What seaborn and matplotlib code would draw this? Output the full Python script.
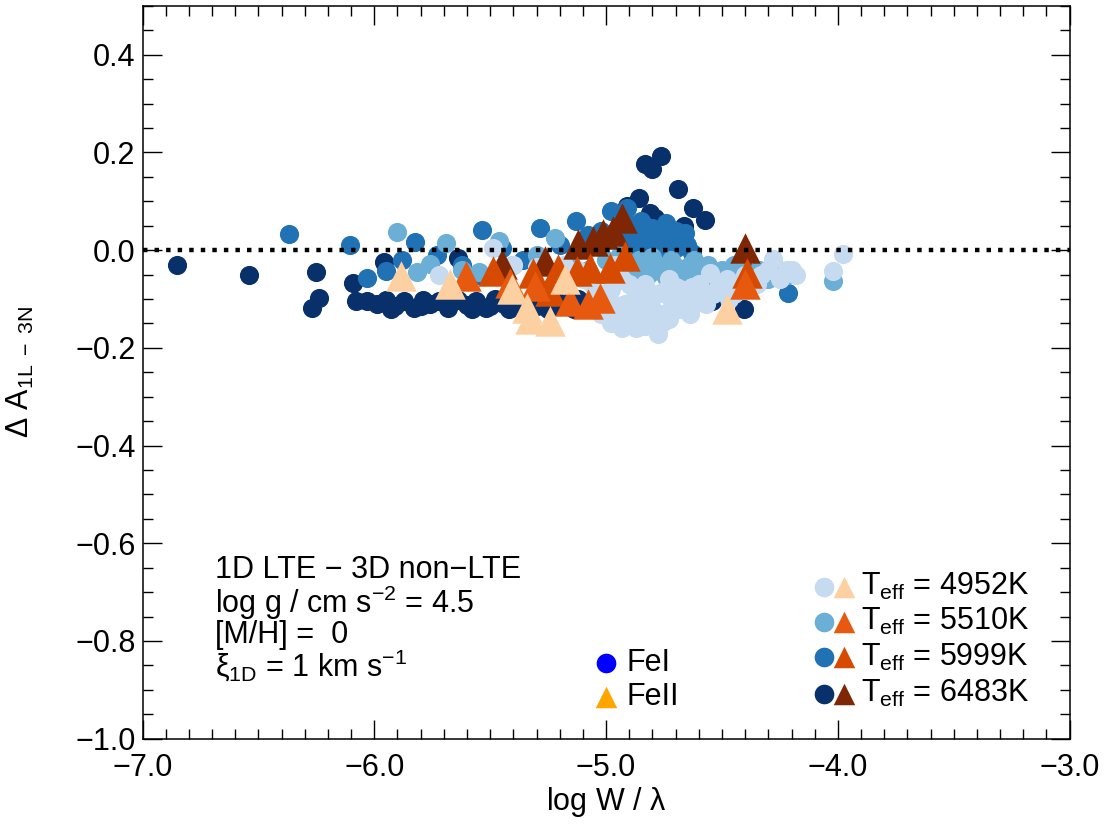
import seaborn as sns
import matplotlib.pyplot as plt
from matplotlib.ticker import MultipleLocator, FuncFormatter

# --- data (log W/lambda, Delta A) ---
# FeI lines, one list per Teff
fe1_6483_x = [-6.85, -6.54, -6.25, -6.24, -6.27, -6.09, -5.96, -5.64,
              -6.08, -6.03, -5.99, -5.95, -5.91, -5.87, -5.83, -5.79, -5.76, -5.72,
              -5.68, -5.64, -5.60, -5.56, -5.52, -5.48, -5.44, -5.40, -5.36, -5.32,
              -5.27, -5.22, -5.17, -5.12, -5.06,
              -5.03, -5.09, -5.14, -5.20, -5.25, -5.30, -5.34, -5.42, -5.50, -5.58,
              -5.70, -5.80, -5.93,
              -4.832, -4.762, -4.80, -4.69, -4.624, -4.572, -4.663, -4.857, -4.81,
              -4.79, -4.91, -4.93, -4.542, -4.404]
fe1_6483_y = [-0.031, -0.051, -0.045, -0.098, -0.119, -0.068, -0.025, -0.016,
              -0.105, -0.105, -0.110, -0.102, -0.115, -0.105, -0.118, -0.102, -0.110, -0.104,
              -0.118, -0.103, -0.112, -0.105, -0.118, -0.100, -0.110, -0.104, -0.115, -0.100,
              -0.110, -0.100, -0.108, -0.100, -0.105,
              -0.110, -0.115, -0.120, -0.115, -0.120, -0.115, -0.120, -0.120, -0.115, -0.120,
              -0.105, -0.115, -0.120,
              0.176, 0.193, 0.166, 0.125, 0.086, 0.062, 0.049, 0.107, 0.076,
              0.066, 0.090, 0.040, -0.105, -0.121]

fe1_5999_x = [-6.37, -6.105, -6.03, -5.95, -5.825, -5.73, -5.62, -5.536, -5.45,
              -5.36, -5.285, -5.20, -5.13, -5.08, -5.02, -4.98, -4.94, -4.91, -4.88,
              -4.85, -4.82, -4.80, -4.77, -4.74, -4.72, -4.70, -4.67, -4.65, -4.86,
              -4.75, -4.60, -4.214, -4.40, -5.55, -5.88,
              -4.96, -4.92, -4.89, -4.86, -4.83, -4.79, -4.76, -4.73, -4.69, -4.66,
              -4.90, -4.84, -4.70, -4.63]
fe1_5999_y = [0.033, 0.010, -0.057, -0.043, 0.016, -0.010, -0.030, 0.041, 0.005,
              -0.020, 0.045, 0.010, 0.060, 0.030, 0.040, 0.080, 0.050, 0.086, 0.030,
              0.060, 0.020, 0.045, 0.030, 0.055, 0.020, 0.040, 0.025, 0.010, 0.005,
              0.005, -0.040, -0.088, -0.040, -0.050, -0.020,
              0.030, 0.060, 0.050, 0.035, 0.050, 0.020, 0.040, 0.035, 0.015, 0.035,
              0.015, 0.015, 0.005, -0.005]

fe1_5510_x = [-5.90, -5.816, -5.76, -5.69, -5.62, -5.55, -5.46, -5.40, -5.30,
              -5.22, -5.15, -5.08, -5.00, -4.94, -4.90, -4.86, -4.82, -4.78, -4.74,
              -4.70, -4.66, -4.62, -4.58, -4.55, -4.50, -4.45, -4.40, -4.34, -4.28,
              -4.22, -4.02, -4.85, -4.95,
              -4.97, -4.92, -4.88, -4.84, -4.80, -4.76, -4.72, -4.68, -4.64, -4.60,
              -4.56, -4.52, -4.47, -4.42, -4.36, -4.30, -4.25]
fe1_5510_y = [0.037, -0.045, -0.029, 0.015, -0.040, -0.045, 0.018, -0.030, -0.010,
              0.025, -0.030, -0.040, -0.020, -0.010, -0.040, -0.020, -0.050, -0.030, -0.055,
              -0.035, -0.050, -0.020, -0.045, -0.060, -0.040, -0.030, -0.050, -0.040, -0.023,
              -0.050, -0.064, -0.060, -0.050,
              -0.030, -0.020, -0.050, -0.035, -0.015, -0.045, -0.020, -0.040, -0.030, -0.055,
              -0.030, -0.050, -0.055, -0.040, -0.055, -0.060, -0.045]

fe1_4952_x = [-5.72, -5.49, -5.40, -5.30, -5.18, -5.10, -5.05, -5.00, -4.98,
              -4.95, -4.92, -4.90, -4.88, -4.85, -4.83, -4.80, -4.78, -4.775, -4.75,
              -4.72, -4.70, -4.68, -4.65, -4.62, -4.60, -4.58, -4.55, -4.52, -4.48,
              -4.45, -4.40, -4.35, -4.30, -4.28, -4.22, -4.18, -4.02, -3.976, -4.96,
              -4.86, -4.76,
              -5.02, -4.97, -4.93, -4.90, -4.87, -4.84, -4.81, -4.79, -4.76, -4.73,
              -4.70, -4.67, -4.64, -4.61, -4.57, -4.54, -4.50, -4.47, -4.43, -4.38,
              -4.33, -4.25, -4.20, -4.93, -4.88, -4.83, -4.73, -4.68, -4.63, -5.06,
              -5.12, -4.98, -5.02]
fe1_4952_y = [-0.050, 0.004, -0.030, -0.035, -0.030, -0.060, -0.100, -0.120, -0.080,
              -0.140, -0.110, -0.070, -0.130, -0.100, -0.155, -0.120, -0.090, -0.172, -0.130,
              -0.100, -0.075, -0.120, -0.090, -0.110, -0.070, -0.095, -0.047, -0.080, -0.060,
              -0.090, -0.050, -0.070, -0.040, -0.018, -0.040, -0.050, -0.043, -0.008, -0.030,
              -0.080, -0.085,
              -0.090, -0.110, -0.160, -0.150, -0.160, -0.135, -0.145, -0.160, -0.150, -0.140,
              -0.120, -0.100, -0.130, -0.090, -0.110, -0.090, -0.070, -0.100, -0.075, -0.060,
              -0.050, -0.060, -0.040, -0.060, -0.080, -0.070, -0.060, -0.080, -0.075, -0.070,
              -0.040, -0.150, -0.130]

# FeII lines
fe2_6483_x = [-5.449, -5.263, -5.121, -5.056, -5.013, -4.97, -4.931, -4.40]
fe2_6483_y = [-0.029, -0.023, 0.012, 0.018, 0.033, 0.040, 0.066, 0.004]

fe2_5999_x = [-5.49, -5.315, -5.207, -5.125, -5.069, -4.983, -4.918, -5.24, -4.391]
fe2_5999_y = [-0.043, -0.047, -0.039, -0.043, -0.037, -0.037, -0.012, -0.084, -0.047]

fe2_5510_x = [-5.605, -5.415, -5.307, -5.156, -5.078, -5.026, -4.40]
fe2_5510_y = [-0.053, -0.068, -0.074, -0.105, -0.111, -0.098, -0.070]

fe2_4952_x = [-5.886, -5.674, -5.406, -5.34, -5.33, -5.24, -5.177, -4.477]
fe2_4952_y = [-0.053, -0.070, -0.080, -0.119, -0.142, -0.146, -0.060, -0.121]

teff_labels = ['4952K', '5510K', '5999K', '6483K']
blues = ['#c6dbef', '#6baed6', '#2171b5', '#08306b']
oranges = ['#fdd0a2', '#e6590f', '#d64a02', '#7f2704']

sns.set_style('ticks')
plt.rcParams['font.family'] = ['Liberation Sans', 'DejaVu Sans']
plt.rcParams['mathtext.fontset'] = 'custom'
plt.rcParams['mathtext.rm'] = 'Liberation Sans'
plt.rcParams['mathtext.it'] = 'Liberation Sans:italic'
plt.rcParams['mathtext.default'] = 'regular'
for k in ['text.color', 'axes.labelcolor', 'xtick.color', 'ytick.color', 'axes.edgecolor']:
    plt.rcParams[k] = 'black'

fig = plt.figure(figsize=(11.05, 8.3), dpi=100)
ax = fig.add_axes([0.129, 0.110, 0.839, 0.883])

fe1 = [(fe1_4952_x, fe1_4952_y), (fe1_5510_x, fe1_5510_y),
       (fe1_5999_x, fe1_5999_y), (fe1_6483_x, fe1_6483_y)]
fe2 = [(fe2_4952_x, fe2_4952_y), (fe2_5510_x, fe2_5510_y),
       (fe2_5999_x, fe2_5999_y), (fe2_6483_x, fe2_6483_y)]

# hottest first so the cool models end up on top
for i in [3, 2, 1, 0]:
    sns.scatterplot(x=fe1[i][0], y=fe1[i][1], color=blues[i], marker='o', s=190,
                    linewidth=0, ax=ax, zorder=2)
for i in [3, 2, 1, 0]:
    sns.scatterplot(x=fe2[i][0], y=fe2[i][1], color=oranges[i], marker='^', s=480,
                    linewidth=0, ax=ax, zorder=3)

ax.axhline(0, color='black', lw=3.2, ls=(0, (1, 1.6)), zorder=5)

minus_fmt = FuncFormatter(lambda v, p: ('%.1f' % v).replace('-', '\u2212'))
ax.set_xlim(-7, -3)
ax.set_ylim(-1.0, 0.5)
ax.xaxis.set_major_locator(MultipleLocator(1.0))
ax.xaxis.set_minor_locator(MultipleLocator(0.1))
ax.set_yticks([-1.0, -0.8, -0.6, -0.4, -0.2, 0.0, 0.2, 0.4])
ax.yaxis.set_minor_locator(MultipleLocator(0.05))
ax.xaxis.set_major_formatter(minus_fmt)
ax.yaxis.set_major_formatter(minus_fmt)
ax.tick_params(which='both', direction='in', top=True, right=True, labelsize=22, width=1)
ax.tick_params(which='major', length=14)
ax.tick_params(which='minor', length=7)
ax.tick_params(axis='x', pad=10)
ax.tick_params(axis='y', pad=5)
for sp in ax.spines.values():
    sp.set_linewidth(1.1)

ax.set_xlabel(r'log W / $\lambda$', fontsize=22, labelpad=2)
ax.set_ylabel(r'$\Delta$ A$_{\rm 1L\ -\ 3N}$', fontsize=22)
ax.yaxis.set_label_coords(-0.115, 0.5)

# annotation block
info = ['1D LTE \u2212 3D non\u2212LTE',
        r'log g / cm s$^{-2}$ = 4.5',
        '[M/H] =  0',
        r'$\xi_{\rm 1D}$ = 1 km s$^{-1}$']
info_y = [-0.654, -0.722, -0.788, -0.851]
for t, yy in zip(info, info_y):
    ax.text(0.078, yy, t, transform=ax.get_yaxis_transform(), fontsize=22, va='center')

# species legend
ax.scatter([-5.0], [-0.846], s=200, marker='o', color='#0000ff', linewidth=0, zorder=6)
ax.scatter([-5.0], [-0.915], s=240, marker='^', color='#ffa500', linewidth=0, zorder=6)
ax.text(-4.91, -0.846, 'FeI', fontsize=22, va='center')
ax.text(-4.91, -0.915, 'FeII', fontsize=22, va='center')

# Teff legend
leg_y = [-0.689, -0.761, -0.833, -0.908]
for i in range(4):
    ax.scatter([-4.06], [leg_y[i]], s=200, marker='o', color=blues[i], linewidth=0, zorder=6)
    ax.scatter([-3.972], [leg_y[i]], s=240, marker='^', color=oranges[i], linewidth=0, zorder=6)
    ax.text(-3.90, leg_y[i], r'T$_{\rm eff}$ = ' + teff_labels[i], fontsize=22, va='center')

fig.savefig('out.png', dpi=100)
